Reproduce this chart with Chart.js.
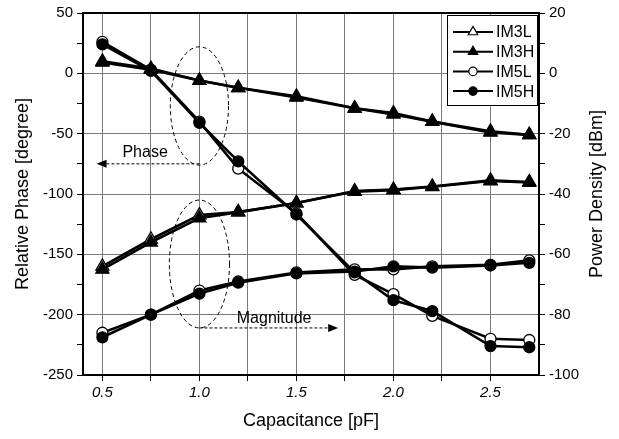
<!DOCTYPE html>
<html><head><meta charset="utf-8">
<script src="https://cdn.jsdelivr.net/npm/chart.js@4"></script>
<style>html,body{margin:0;padding:0;background:#fff}</style>
</head><body>
<canvas id="c" width="619" height="439" style="display:block;width:619px;height:439px"></canvas>
<script>
// ---- data ----
const capacitance = [0.5, 0.75, 1.0, 1.2, 1.5, 1.8, 2.0, 2.2, 2.5, 2.7];
const seriesNames = ['IM3L', 'IM3H', 'IM5L', 'IM5H'];
const phaseIM3L = [10, 4, -6, -12, -19, -29, -33, -40, -48, -51];
const phaseIM3H = [9, 3, -6, -12, -20, -29, -34, -40, -49, -51];
const phaseIM5L = [26, 3, -40, -79, -116, -167, -183, -201, -220, -221];
const phaseIM5H = [24, 2, -41, -73, -117, -165, -188, -197, -226, -227];
const magIM3L = [-64, -55, -47, -46, -43, -39, -38.5, -37.5, -35.5, -36];
const magIM3H = [-65, -56, -48, -46, -43, -39.2, -38.7, -37.6, -35.7, -36.2];
const magIM5L = [-86, -80, -72, -69, -66, -65, -65, -64, -63.5, -62];
const magIM5H = [-87.5, -80, -73, -69.4, -66.3, -65.7, -64, -64.4, -63.7, -62.8];
const xTicks = [0.5, 0.75, 1.0, 1.25, 1.5, 1.75, 2.0, 2.25, 2.5];
const phaseTicks = [50, 25, 0, -25, -50, -75, -100, -125, -150, -175, -200, -225, -250];
const powerTicks = [20, 10, 0, -10, -20, -30, -40, -50, -60, -70, -80, -90, -100];

const FONT = "'Liberation Sans', Arial, sans-serif";
const styles = [
  {pointStyle: 'triangle', fill: '#fff', r: 7.5},
  {pointStyle: 'triangle', fill: '#000', r: 7.5},
  {pointStyle: 'circle', fill: '#fff', r: 5.5},
  {pointStyle: 'circle', fill: '#000', r: 5.5}
];
const phaseSets = [phaseIM3L, phaseIM3H, phaseIM5L, phaseIM5H];
const magSets = [magIM3L, magIM3H, magIM5L, magIM5H];

function mk(name, vals, i, axis) {
  const s = styles[i];
  return {
    label: name,
    data: capacitance.map((x, k) => ({x: x, y: vals[k]})),
    yAxisID: axis,
    borderColor: '#000',
    borderWidth: 2.6,
    pointStyle: s.pointStyle,
    pointRadius: s.r,
    pointBackgroundColor: s.fill,
    pointBorderColor: '#000',
    pointBorderWidth: 1.3,
    order: (i % 2 === 1) ? 0 : 1,
    tension: 0
  };
}
const datasets = [];
seriesNames.forEach((n, i) => datasets.push(mk(n, phaseSets[i], i, 'y')));
seriesNames.forEach((n, i) => datasets.push(mk(n, magSets[i], i, 'y2')));

function dashedArrow(ctx, x1, y, x2) {
  ctx.save();
  ctx.strokeStyle = '#000'; ctx.lineWidth = 1; ctx.setLineDash([3, 2]);
  const dir = Math.sign(x2 - x1);
  ctx.beginPath(); ctx.moveTo(x1, y); ctx.lineTo(x2 - dir * 8, y); ctx.stroke();
  ctx.setLineDash([]); ctx.fillStyle = '#000';
  ctx.beginPath(); ctx.moveTo(x2, y); ctx.lineTo(x2 - dir * 10, y - 4); ctx.lineTo(x2 - dir * 10, y + 4); ctx.closePath(); ctx.fill();
  ctx.restore();
}

const decor = {
  id: 'decor',
  beforeDatasetsDraw(chart) {
    const {ctx, scales: {x, y}} = chart;
    ctx.save();
    ctx.strokeStyle = '#000'; ctx.lineWidth = 1; ctx.setLineDash([4, 3]);
    ctx.beginPath();
    ctx.ellipse(x.getPixelForValue(1.0), y.getPixelForValue(-27),
      x.getPixelForValue(1.15) - x.getPixelForValue(1.0), y.getPixelForValue(-76) - y.getPixelForValue(-27), 0, 0, Math.PI * 2);
    ctx.stroke();
    ctx.beginPath();
    ctx.ellipse(x.getPixelForValue(1.0), y.getPixelForValue(-158),
      x.getPixelForValue(1.155) - x.getPixelForValue(1.0), y.getPixelForValue(-211) - y.getPixelForValue(-158), 0, 0, Math.PI * 2);
    ctx.stroke();
    ctx.restore();
    dashedArrow(ctx, x.getPixelForValue(1.0), y.getPixelForValue(-75), x.getPixelForValue(0.47));
    dashedArrow(ctx, x.getPixelForValue(1.0), y.getPixelForValue(-211), x.getPixelForValue(1.715));
    ctx.save();
    ctx.fillStyle = '#000'; ctx.font = '16px ' + FONT; ctx.textAlign = 'center'; ctx.textBaseline = 'middle';
    ctx.fillText('Phase', x.getPixelForValue(0.72), y.getPixelForValue(-66));
    ctx.fillText('Magnitude', x.getPixelForValue(1.385), y.getPixelForValue(-203));
    ctx.restore();
  },
  afterDraw(chart) {
    const {ctx, chartArea: a} = chart;
    ctx.save();
    ctx.strokeStyle = '#000'; ctx.lineWidth = 2;
    ctx.strokeRect(a.left, a.top, a.right - a.left, a.bottom - a.top);
    // right axis title, reading bottom-to-top
    ctx.save();
    ctx.translate(597, (a.top + a.bottom) / 2);
    ctx.rotate(-Math.PI / 2);
    ctx.fillStyle = '#000'; ctx.font = '18px ' + FONT; ctx.textAlign = 'center'; ctx.textBaseline = 'middle';
    ctx.fillText('Power Density [dBm]', 0, 0);
    ctx.restore();
    // legend
    const w = 90, h = 90, lx = a.right - w - 2, ly = a.top + 2;
    ctx.fillStyle = '#fff'; ctx.fillRect(lx, ly, w, h);
    ctx.lineWidth = 1; ctx.strokeStyle = '#000'; ctx.strokeRect(lx + 0.5, ly + 0.5, w, h);
    seriesNames.forEach((n, i) => {
      const yy = ly + 17 + i * 19.7;
      ctx.strokeStyle = '#000'; ctx.lineWidth = 2;
      ctx.beginPath(); ctx.moveTo(lx + 6, yy); ctx.lineTo(lx + 46, yy); ctx.stroke();
      ctx.fillStyle = styles[i].fill; ctx.lineWidth = 1.2;
      Chart.helpers.drawPoint(ctx, {pointStyle: styles[i].pointStyle, radius: styles[i].pointStyle === 'triangle' ? 5.5 : 4.2, borderWidth: 1.2}, lx + 26, yy);
      ctx.fillStyle = '#000'; ctx.font = '16px ' + FONT; ctx.textAlign = 'left'; ctx.textBaseline = 'middle';
      ctx.fillText(n, lx + 49, yy + 1);
    });
    ctx.restore();
  }
};

new Chart(document.getElementById('c'), {
  type: 'line',
  data: {datasets: datasets},
  plugins: [decor],
  options: {
    responsive: false,
    animation: false,
    layout: {padding: {top: 13, left: 0, right: 0, bottom: 0}},
    plugins: {legend: {display: false}, tooltip: {enabled: false}},
    scales: {
      x: {
        type: 'linear', min: 0.4, max: 2.75,
        afterBuildTicks: s => { s.ticks = xTicks.map(v => ({value: v})); },
        afterFit: s => { s.height = 64; },
        ticks: {
          autoSkip: false, maxRotation: 0, color: '#000', padding: 3,
          font: {family: FONT, size: 15, style: 'italic'},
          callback: v => (Math.abs(v * 2 - Math.round(v * 2)) < 1e-6) ? v.toFixed(1) : ''
        },
        grid: {color: '#7a7a7a', lineWidth: 1, tickColor: '#000', tickLength: 6},
        border: {color: '#000', width: 2},
        title: {display: true, text: 'Capacitance [pF]', color: '#000', font: {family: FONT, size: 18}, padding: {top: 4, bottom: 7}}
      },
      y: {
        type: 'linear', position: 'left', min: -250, max: 50,
        afterBuildTicks: s => { s.ticks = phaseTicks.map(v => ({value: v})); },
        afterFit: s => { s.width = 83; },
        ticks: {
          autoSkip: false, color: '#000', padding: 4,
          font: {family: FONT, size: 15},
          callback: v => (v % 50 === 0) ? String(v) : ''
        },
        grid: {
          color: c => (c.tick && c.tick.value % 50 === 0) ? '#7a7a7a' : 'rgba(0,0,0,0)',
          tickColor: '#000', tickLength: 6, lineWidth: 1
        },
        border: {color: '#000', width: 2},
        title: {display: true, text: 'Relative Phase [degree]', color: '#000', font: {family: FONT, size: 18}, padding: {top: 12, bottom: 4}}
      },
      y2: {
        type: 'linear', position: 'right', min: -100, max: 20,
        afterBuildTicks: s => { s.ticks = powerTicks.map(v => ({value: v})); },
        afterFit: s => { s.width = 80; },
        ticks: {
          autoSkip: false, color: '#000', padding: 4,
          font: {family: FONT, size: 15},
          callback: v => (v % 20 === 0) ? String(v) : ''
        },
        grid: {drawOnChartArea: false, tickColor: '#000', tickLength: 6},
        border: {color: '#000', width: 2},
        title: {display: false}
      }
    }
  }
});
</script>
</body></html>
